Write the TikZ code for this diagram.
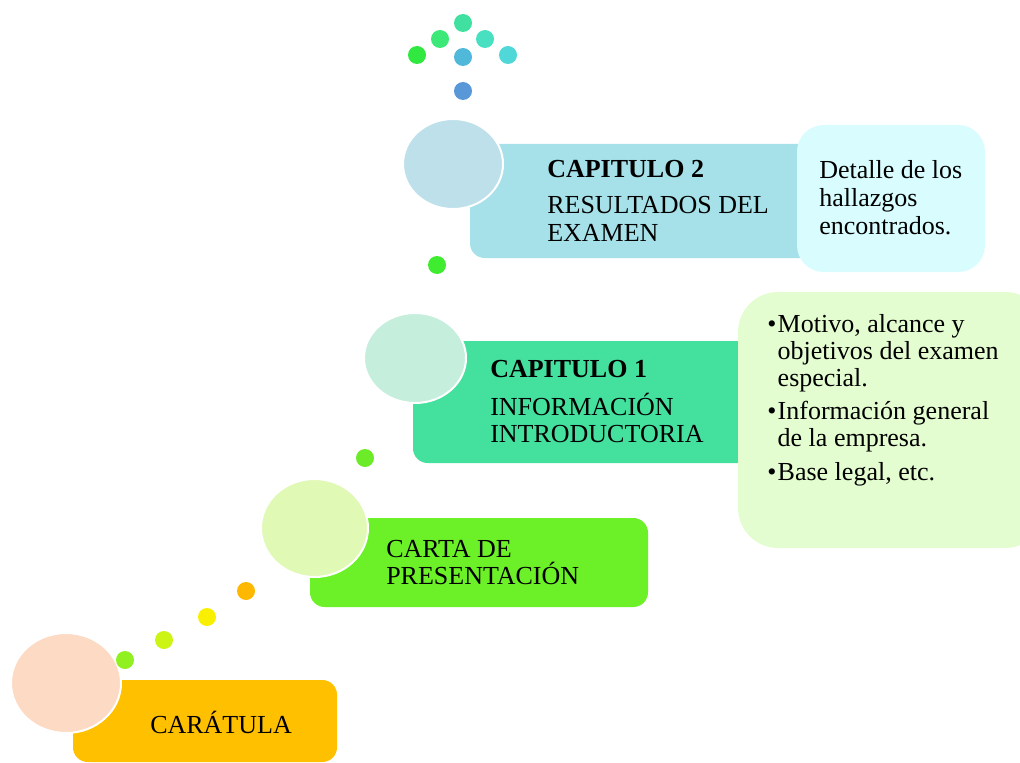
\documentclass[tikz,border=0pt]{standalone}
\usepackage{fontspec}
\setmainfont{Liberation Serif}
\newcommand\stacklines[1]{\vtop{\halign{##\hfil\cr#1\crcr}}}
\definecolor{cCar}{HTML}{FFC000}
\definecolor{cCarC}{HTML}{FDDAC4}
\definecolor{cCarta}{HTML}{6CF028}
\definecolor{cCartaC}{HTML}{E0F9B5}
\definecolor{cCapA}{HTML}{44E09E}
\definecolor{cCapAC}{HTML}{C5EEDC}
\definecolor{cBul}{HTML}{E4FDD0}
\definecolor{cCapB}{HTML}{A6E1EA}
\definecolor{cCapBC}{HTML}{BDE0EA}
\definecolor{cDet}{HTML}{D9FDFE}
\definecolor{d1}{HTML}{90F020}
\definecolor{d2}{HTML}{CCF414}
\definecolor{d3}{HTML}{F8F000}
\definecolor{d4}{HTML}{FFB800}
\definecolor{d5}{HTML}{6CEC28}
\definecolor{d6}{HTML}{40EC30}
\definecolor{t1}{HTML}{40E0A0}
\definecolor{t2}{HTML}{3CE878}
\definecolor{t3}{HTML}{48E0C0}
\definecolor{t4}{HTML}{30E840}
\definecolor{t5}{HTML}{50B8D8}
\definecolor{t6}{HTML}{50D8D8}
\definecolor{t7}{HTML}{5898D8}
\begin{document}
\begin{tikzpicture}[x=0.75pt,y=-0.75pt,
  box/.style={fill=#1, draw=none, rounded corners=11pt},
  sidebox/.style={fill=#1, draw=none, rounded corners=20pt},
  bubble/.style={fill=#1, draw=white, line width=1.5pt},
  dot/.style={fill=#1, draw=none},
  lbl/.style={anchor=base west, inner sep=0pt, font=\fontsize{19.5}{20.25}\selectfont},
  lblw/.style={anchor=base west, inner sep=0pt, font=\fontsize{19.5}{21}\selectfont}]
\useasboundingbox (0,0) rectangle (1020,763);
% boxes
\draw[box=cCar] (73,680) rectangle (337,762);
\draw[box=cCarta] (310,518) rectangle (648,607);
\draw[box=cCapA] (413,341) rectangle (770,463);
\draw[box=cCapB] (470,144) rectangle (815,258);
\draw[sidebox=cBul, rounded corners=30pt] (738,292) rectangle (1045,548);
\draw[sidebox=cDet] (797,125) rectangle (985,272);
% bubbles
\draw[bubble=cCarC] (66,683) ellipse [x radius=55, y radius=50];
\draw[bubble=cCartaC] (314.5,528) ellipse [x radius=53.5, y radius=49];
\draw[bubble=cCapAC] (415,358) ellipse [x radius=51, y radius=45];
\draw[bubble=cCapBC] (453,164) ellipse [x radius=50, y radius=45];
% dots
\foreach \px/\py/\c in {125/660/d1,164/640/d2,207/617/d3,246/591/d4,365/458/d5,437/265/d6,
  463/23/t1,440/39/t2,485/39/t3,417/55/t4,463/57/t5,508/55/t6,463/91/t7}
  \fill[dot=\c] (\px,\py) circle [radius=9];
% texts
\node[lbl] (car) at (150,733) {CARÁTULA};
\node[lbl] (carta) at (386,557) {\stacklines{CARTA DE\cr PRESENTACIÓN}};
\node[lbl] (cap1h) at (490,377) {\textbf{CAPITULO 1}};
\node[lbl] (cap1b) at (490,415) {\stacklines{INFORMACIÓN\cr INTRODUCTORIA}};
\node[lbl] (cap2h) at (547,177) {\textbf{CAPITULO 2}};
\node[lblw] (cap2b) at (547,213) {\stacklines{RESULTADOS DEL\cr EXAMEN}};
\node[lblw] (det) at (819,178) {\stacklines{Detalle de los\cr hallazgos\cr encontrados.}};
\node[lbl] (bul) at (767,332) {\vtop{\halign{#\hfil&#\hfil\cr
  \textbullet\kern1pt&Motivo, alcance y\cr
  &objetivos del examen\cr
  &especial.\cr\noalign{\vskip 5pt}
  \textbullet\kern1pt&Información general\cr
  &de la empresa.\cr\noalign{\vskip 5pt}
  \textbullet\kern1pt&Base legal, etc.\crcr}}};
\end{tikzpicture}
\end{document}
